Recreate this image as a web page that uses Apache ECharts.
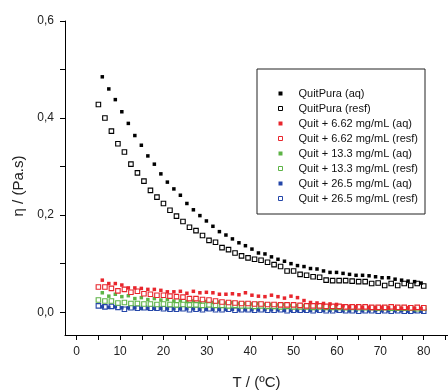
<!DOCTYPE html>
<html>
<head>
<meta charset="utf-8">
<script src="https://cdn.jsdelivr.net/npm/echarts@6/dist/echarts.min.js"></script>
<style>html,body{margin:0;padding:0;background:#fff}#c{width:448px;height:390px}</style>
</head>
<body>
<div id="c"></div>
<script>
// Temperatures (°C)
var tAq = [5.9,7.4,8.9,10.4,11.9,13.4,14.9,16.4,17.9,19.4,20.9,22.4,23.9,25.4,26.9,28.4,29.9,31.4,32.9,34.4,35.9,37.4,38.9,40.4,41.9,43.4,44.9,46.4,47.9,49.4,50.9,52.4,53.9,55.4,56.9,58.4,59.9,61.4,62.9,64.4,65.9,67.4,68.9,70.4,71.9,73.4,74.9,76.4,77.9,79.4];
var tResf = [5.0,6.5,8.0,9.5,11.0,12.5,14.0,15.5,17.0,18.5,20.0,21.5,23.0,24.5,26.0,27.5,29.0,30.5,32.0,33.5,35.0,36.5,38.0,39.5,41.0,42.5,44.0,45.5,47.0,48.5,50.0,51.5,53.0,54.5,56.0,57.5,59.0,60.5,62.0,63.5,65.0,66.5,68.0,69.5,71.0,72.5,74.0,75.5,77.0,78.5,80.0];

// Viscosity (Pa.s)
var pureAq = [0.485,0.460,0.438,0.413,0.389,0.364,0.344,0.322,0.305,0.285,0.268,0.254,0.241,0.224,0.211,0.199,0.188,0.177,0.166,0.159,0.151,0.143,0.137,0.130,0.122,0.120,0.114,0.109,0.105,0.100,0.096,0.094,0.090,0.089,0.085,0.082,0.082,0.080,0.078,0.076,0.076,0.075,0.073,0.071,0.071,0.068,0.066,0.064,0.063,0.060];
var pureResf = [0.428,0.400,0.373,0.347,0.330,0.305,0.287,0.270,0.251,0.237,0.224,0.210,0.198,0.187,0.175,0.168,0.158,0.148,0.144,0.133,0.129,0.122,0.116,0.112,0.109,0.107,0.103,0.098,0.094,0.085,0.085,0.078,0.076,0.073,0.072,0.066,0.065,0.065,0.065,0.064,0.063,0.063,0.059,0.060,0.055,0.059,0.055,0.059,0.055,0.059,0.054];
var q662Aq = [0.066,0.059,0.059,0.056,0.050,0.050,0.049,0.047,0.047,0.045,0.042,0.042,0.043,0.039,0.043,0.040,0.041,0.040,0.037,0.037,0.038,0.036,0.040,0.035,0.033,0.032,0.035,0.032,0.029,0.033,0.030,0.024,0.020,0.019,0.018,0.017,0.016,0.013,0.011,0.011,0.010,0.010,0.009,0.010,0.009,0.009,0.008,0.009,0.008,0.008];
var q662Resf = [0.052,0.052,0.049,0.044,0.047,0.041,0.043,0.038,0.037,0.035,0.035,0.033,0.032,0.031,0.028,0.028,0.026,0.025,0.023,0.021,0.020,0.019,0.018,0.018,0.017,0.017,0.016,0.016,0.015,0.015,0.015,0.014,0.013,0.013,0.013,0.012,0.012,0.012,0.011,0.011,0.011,0.011,0.010,0.010,0.010,0.011,0.010,0.010,0.009,0.010,0.009];
var q133Aq = [0.040,0.033,0.037,0.032,0.034,0.028,0.030,0.026,0.028,0.025,0.026,0.023,0.024,0.022,0.023,0.021,0.022,0.020,0.021,0.019,0.020,0.018,0.018,0.017,0.018,0.016,0.016,0.015,0.016,0.014,0.014,0.013,0.013,0.012,0.012,0.011,0.011,0.010,0.010,0.010,0.009,0.009,0.009,0.008,0.008,0.008,0.007,0.007,0.007,0.007];
var q133Resf = [0.025,0.023,0.023,0.019,0.020,0.018,0.018,0.017,0.017,0.016,0.017,0.016,0.015,0.016,0.015,0.015,0.014,0.015,0.014,0.014,0.013,0.014,0.013,0.013,0.012,0.013,0.012,0.012,0.011,0.012,0.011,0.011,0.011,0.010,0.011,0.010,0.010,0.010,0.009,0.010,0.009,0.009,0.009,0.008,0.009,0.008,0.008,0.008,0.008,0.007,0.008];
var q265Aq = [0.011,0.010,0.011,0.009,0.009,0.009,0.008,0.008,0.008,0.008,0.007,0.007,0.007,0.007,0.007,0.006,0.006,0.006,0.006,0.006,0.006,0.005,0.005,0.005,0.005,0.005,0.005,0.005,0.004,0.004,0.004,0.004,0.004,0.004,0.004,0.004,0.004,0.003,0.003,0.003,0.003,0.003,0.003,0.003,0.003,0.003,0.003,0.002,0.002,0.002];
var q265Resf = [0.013,0.011,0.012,0.010,0.006,0.009,0.008,0.009,0.008,0.008,0.007,0.006,0.006,0.007,0.005,0.006,0.005,0.007,0.005,0.005,0.006,0.004,0.005,0.005,0.004,0.005,0.004,0.004,0.005,0.003,0.004,0.004,0.004,0.003,0.004,0.003,0.003,0.004,0.003,0.003,0.002,0.003,0.003,0.002,0.003,0.002,0.003,0.002,0.002,0.003,0.002];

var seriesNames = ['QuitPura (aq)','QuitPura (resf)','Quit + 6.62 mg/mL (aq)','Quit + 6.62 mg/mL (resf)','Quit + 13.3 mg/mL (aq)','Quit + 13.3 mg/mL (resf)','Quit + 26.5 mg/mL (aq)','Quit + 26.5 mg/mL (resf)'];
var xLabelTicks = [0,10,20,30,40,50,60,70,80];
var xAllTicks = [0,5,10,15,20,25,30,35,40,45,50,55,60,65,70,75,80,85];
var yLabelTicks = [0,0.2,0.4,0.6];
var yAllTicks = [0,0.1,0.2,0.3,0.4,0.5,0.6];

var colors = ['#000000','#000000','#e8262d','#e8262d','#5db346','#5db346','#2446a8','#2446a8'];
var seriesValues = [pureAq,pureResf,q662Aq,q662Resf,q133Aq,q133Resf,q265Aq,q265Resf];

var FONT = 'Liberation Sans, Arial, sans-serif';

function pairs(ts, vs){ return vs.map(function(v,i){ return [ts[i], v]; }); }

var series = seriesValues.map(function(vals, k){
  var hollow = (k % 2 === 1);
  return {
    name: seriesNames[k],
    type: 'scatter',
    symbol: 'rect',
    symbolSize: hollow ? 4.5 : 3.5,
    data: pairs(hollow ? tResf : tAq, vals),
    itemStyle: hollow ? {color:'#ffffff', borderColor: colors[k], borderWidth: 1.1, opacity: 1}
                      : {color: colors[k], borderWidth: 0, opacity: 1},
    emphasis: {disabled: true},
    z: 10 - k
  };
});

var chart = echarts.init(document.getElementById('c'), null, {renderer:'canvas'});
chart.setOption({
  animation: false,
  backgroundColor: '#ffffff',
  grid: {left: 65, top: 21, right: 0, bottom: 55, containLabel: false, outerBoundsMode: 'none'},
  legend: {
    orient: 'vertical',
    left: 257, top: 69,
    padding: [19, 7, 10, 21],
    borderColor: '#222', borderWidth: 1,
    itemWidth: 4, itemHeight: 4, itemGap: 4,
    selectedMode: false,
    textStyle: {fontSize: 11, color: '#111', fontFamily: FONT, padding: [0, 0, 0, 11]},
    data: seriesNames.map(function(n,k){
      return {name: n, icon: 'rect', itemStyle: (k%2===1) ? {color:'#fff', borderColor: colors[k], borderWidth: 1} : {color: colors[k], borderWidth: 0}};
    })
  },
  xAxis: {
    type: 'value', min: -2.7, max: 85.6, position: 'bottom',
    name: 'T / (\u00baC)', nameLocation: 'middle', nameGap: 40,
    nameTextStyle: {fontSize: 15, color: '#222', fontFamily: FONT},
    axisLine: {show: true, onZero: false, lineStyle: {color: '#000', width: 1}},
    axisTick: {show: true, inside: false, length: 5, customValues: xAllTicks, lineStyle:{color:'#000'}},
    axisLabel: {customValues: xLabelTicks, margin: 11, fontSize: 12, color: '#222', fontFamily: FONT},
    splitLine: {show: false}
  },
  yAxis: {
    type: 'value', min: -0.047, max: 0.6, position: 'left',
    name: '\u03b7 / (Pa.s)', nameLocation: 'middle', nameGap: 33,
    nameTextStyle: {fontSize: 15, color: '#222', fontFamily: FONT, padding: [0,0,0,-16]},
    axisLine: {show: true, onZero: false, lineStyle: {color: '#000', width: 1}},
    axisTick: {show: true, inside: false, length: 5, customValues: yAllTicks, lineStyle:{color:'#000'}},
    axisLabel: {customValues: yLabelTicks, margin: 11, fontSize: 12, color: '#222', fontFamily: FONT,
      formatter: function(v){ return v.toFixed(1).replace('.', ','); }},
    splitLine: {show: false}
  },
  series: series
});
</script>
</body>
</html>
